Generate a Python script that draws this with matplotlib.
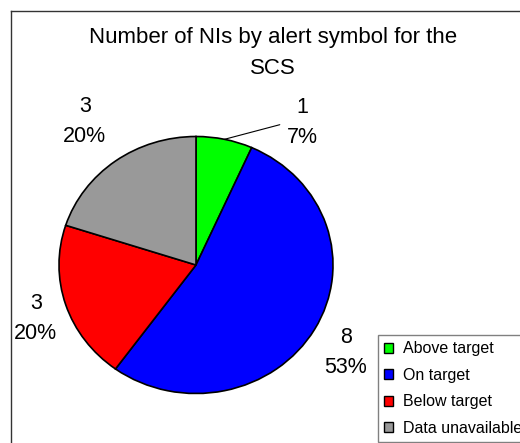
import numpy as np
import matplotlib
matplotlib.use("Agg")
import matplotlib.pyplot as plt
from matplotlib.patches import Patch
from matplotlib.lines import Line2D

plt.rcParams['font.family'] = ['Liberation Sans', 'DejaVu Sans']

categories = ["Above target", "On target", "Below target", "Data unavailable"]
values = [1, 8, 3, 3]
colors = ["#00FF00", "#0000FF", "#FF0000", "#999999"]
title_lines = ["Number of NIs by alert symbol for the", "SCS"]

W, H = 520, 443
fig = plt.figure(figsize=(W / 100, H / 100), dpi=100)

# pie axes (slightly elliptical like the original)
cx, cy, rx, ry = 196, 265, 137, 128.5
ax = fig.add_axes([(cx - rx) / W, (H - cy - ry) / H, 2 * rx / W, 2 * ry / H])
wedges, _ = ax.pie(values, colors=colors, startangle=90, counterclock=False,
                   radius=1, wedgeprops=dict(edgecolor="black", linewidth=1.2))
ax.set_aspect('auto')
ax.set_xlim(-1, 1)
ax.set_ylim(-1, 1)
ax.axis('off')

LBL_FS = 15.5
total = sum(values)
label_dist = [1.35, 1.29, 1.24, 1.38]
label_offset = [-23, -2, 1.5, 0]  # angular offset (deg, counterclockwise) for label placement
leader = [True, False, False, False]
for i, (w, v) in enumerate(zip(wedges, values)):
    mid = (w.theta1 + w.theta2) / 2.0
    pct = v / total * 100
    txt = f"{v}\n{pct:.0f}%"
    a = np.deg2rad(mid + label_offset[i])
    lx, ly = label_dist[i] * np.cos(a), label_dist[i] * np.sin(a)
    if leader[i]:
        m = np.deg2rad(mid)
        ex, ey = np.cos(m), np.sin(m)
        ax.annotate(txt, xy=(ex, ey), xytext=(lx, ly), ha='center', va='center',
                    fontsize=LBL_FS, linespacing=1.55, annotation_clip=False,
                    arrowprops=dict(arrowstyle='-', lw=0.8, color='black',
                                    shrinkA=3, shrinkB=0, relpos=(0, 0.5)))
    else:
        ax.text(lx, ly, txt, ha='center', va='center', fontsize=LBL_FS,
                linespacing=1.55)

# title
fig.text(273 / W, 1 - 38 / H, title_lines[0], ha='center', va='center', fontsize=16)
fig.text(273 / W, 1 - 68 / H, title_lines[1], ha='center', va='center', fontsize=16)

# chart area frame (left and top edges visible)
fig.add_artist(Line2D([10.5 / W, 10.5 / W], [0, 1 - 10.5 / H], color='#333333',
                      lw=1.0, transform=fig.transFigure))
fig.add_artist(Line2D([10.5 / W, 1.0], [1 - 10.5 / H, 1 - 10.5 / H], color='#333333',
                      lw=1.0, transform=fig.transFigure))

# legend
handles = [Patch(facecolor=c, edgecolor='black', linewidth=1.0) for c in colors]
leg = fig.legend(handles, categories, loc='upper left',
                 bbox_to_anchor=(378 / W, 1 - 438 / H, (560 - 378) / W, (438 - 335) / H),
                 bbox_transform=fig.transFigure, mode='expand', borderaxespad=0,
                 fontsize=11.5, handlelength=0.55, handleheight=0.55,
                 handletextpad=0.6, labelspacing=0.72, borderpad=0.4,
                 fancybox=False, framealpha=1, edgecolor='#808080')
leg.get_frame().set_linewidth(1.0)

fig.savefig("out.png", dpi=100)
